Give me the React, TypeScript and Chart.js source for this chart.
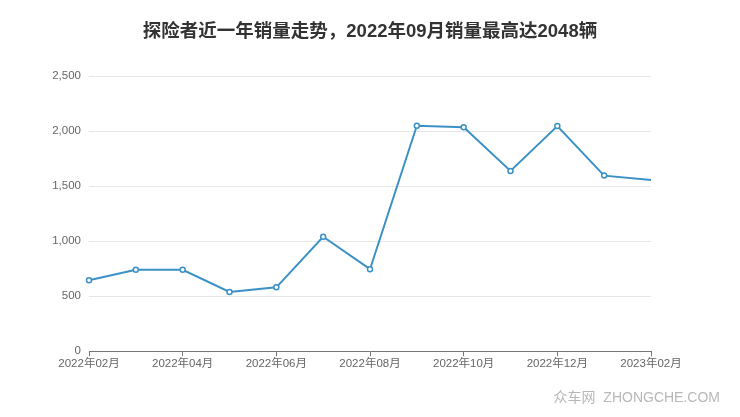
import React, { useEffect, useRef } from "react";
import { Chart, registerables } from "chart.js";

Chart.register(...registerables);

const TITLE = "探险者近一年销量走势，2022年09月销量最高达2048辆";
const WATERMARK = "众车网  ZHONGCHE.COM";
const months = [
  "2022年02月", "2022年03月", "2022年04月", "2022年05月", "2022年06月", "2022年07月",
  "2022年08月", "2022年09月", "2022年10月", "2022年11月", "2022年12月", "2023年01月", "2023年02月",
];
const sales = [645, 740, 740, 538, 580, 1040, 745, 2048, 2035, 1638, 2045, 1595, 1555];
const pointSizes = [2.5, 2.5, 2.5, 2.5, 2.5, 2.5, 2.5, 2.5, 2.5, 2.5, 2.5, 2.5, 0];

const FONT = "'Helvetica Neue', Arial, 'Liberation Sans', 'Noto Sans CJK SC', sans-serif";

export default function App() {
  const ref = useRef<HTMLCanvasElement>(null);
  useEffect(() => {
    document.body.style.margin = "0";
    const overlay = {
      id: "overlay",
      afterDraw(chart: any) {
        const c = chart.ctx;
        c.save();
        c.font = `bold 18.5px ${FONT}`;
        c.fillStyle = "#333333";
        c.textAlign = "center";
        c.textBaseline = "middle";
        c.fillText(TITLE, 370, 32);
        c.font = `14px ${FONT}`;
        c.fillStyle = "#b8b8b8";
        c.textAlign = "right";
        c.fillText(WATERMARK, 720, 398);
        c.restore();
      },
    };
    const chart = new Chart(ref.current!, {
      type: "line",
      data: {
        labels: months,
        datasets: [
          {
            data: sales,
            borderColor: "#3b91c6",
            backgroundColor: "#ffffff",
            borderWidth: 2,
            pointRadius: pointSizes,
            pointBorderWidth: 1.5,
            pointBorderColor: "#3b91c6",
            pointBackgroundColor: "#ffffff",
            tension: 0,
          },
        ],
      },
      options: {
        animation: false,
        responsive: false,
        layout: { padding: { left: 0, right: 89, top: 76, bottom: 45 } },
        plugins: {
          legend: { display: false },
          tooltip: { enabled: false },
          title: { display: false },
        },
        scales: {
          x: {
            offset: false,
            grid: {
              drawOnChartArea: false,
              drawTicks: true,
              tickLength: 5,
              tickColor: (ctx: any) => (ctx.index % 2 === 0 ? "#777777" : "rgba(0,0,0,0)"),
            },
            border: { display: true, color: "#777777", width: 1 },
            ticks: {
              autoSkip: false,
              maxRotation: 0,
              color: "#666666",
              font: { family: FONT, size: 11.5 },
              padding: 1,
              callback: (v: any, i: number) => (i % 2 === 0 ? months[i] : ""),
            },
          },
          y: {
            min: 0,
            max: 2500,
            border: { display: false },
            grid: { color: "#e6e6e6", drawTicks: false },
            afterFit: (scale: any) => {
              scale.width = 89;
            },
            ticks: {
              stepSize: 500,
              color: "#666666",
              font: { family: FONT, size: 11.5 },
              padding: 8,
              callback: (v: any) => Number(v).toLocaleString("en-US"),
            },
          },
        },
      },
      plugins: [overlay],
    });
    return () => chart.destroy();
  }, []);
  return (
    <div style={{ position: "absolute", left: 0, top: 0, width: 740, height: 417 }}>
      <canvas ref={ref} width={740} height={417} />
    </div>
  );
}
